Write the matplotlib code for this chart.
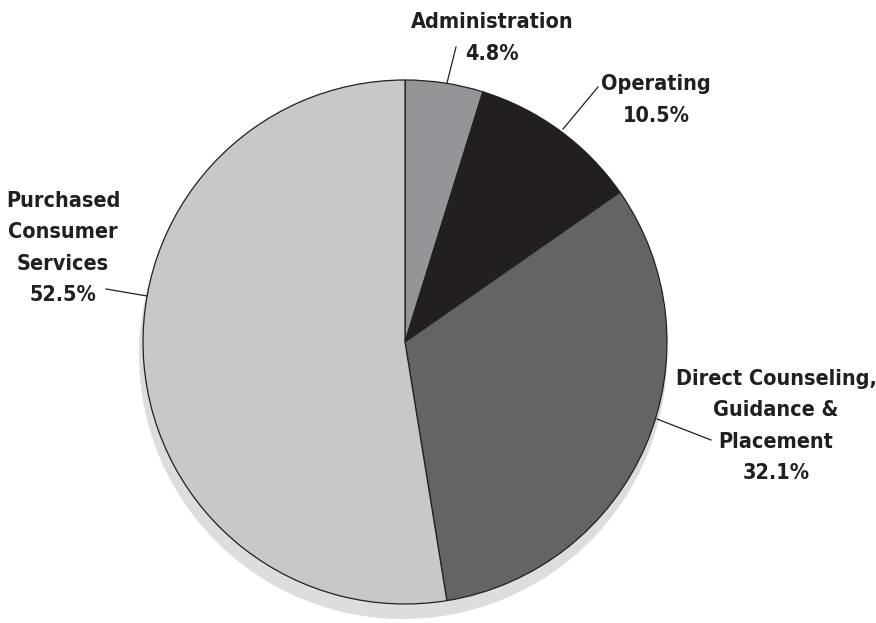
import matplotlib.pyplot as plt
from matplotlib.patches import Circle

# slice data, clockwise from 12 o'clock
labels = ["Administration", "Operating", "Direct Counseling,\nGuidance &\nPlacement",
          "Purchased\nConsumer\nServices"]
shares = [4.8, 10.5, 32.1, 52.5]
colors = ["#939598", "#231f20", "#636466", "#c7c8ca"]

W, H = 876, 623
fig = plt.figure(figsize=(W / 100, H / 100), dpi=100)
ax = fig.add_axes([0, 0, 1, 1])

cx, cy, r = 405, H - 342, 262

# soft drop shadow
ax.add_patch(Circle((cx - 2, cy - 13), r + 2, facecolor="#dcdddf", edgecolor="none", zorder=0))

ax.pie(shares, colors=colors, startangle=90, counterclock=False,
       center=(cx, cy), radius=r,
       wedgeprops=dict(edgecolor="#231f20", linewidth=0.9))

ax.set_xlim(0, W)
ax.set_ylim(0, H)
ax.set_aspect("equal")
ax.axis("off")

font = dict(family="DejaVu Sans", fontstretch="condensed", fontweight="bold",
            fontsize=15.5, color="#231f20", ha="center", va="center", linespacing=1.7)

# label text positions (pixel, from top) and leader lines
label_pos = [(492, 38), (656, 100), (776, 426), (63, 248)]
leaders = [((447, 83), (456, 47)),
           ((563, 129), (598, 87)),
           ((657, 419), (711, 440)),
           ((147, 296), (106, 289))]

for lab, val, (tx, ty), (p0, p1) in zip(labels, shares, label_pos, leaders):
    ax.text(tx, H - ty, f"{lab}\n{val}%", **font)
    ax.plot([p0[0], p1[0]], [H - p0[1], H - p1[1]], color="#231f20", lw=0.9)

fig.savefig("out.png", dpi=100, facecolor="white")
